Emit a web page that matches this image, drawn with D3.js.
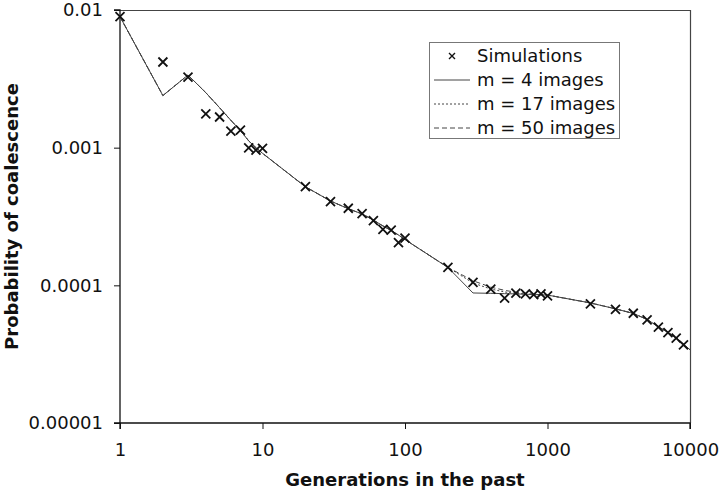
<!DOCTYPE html>
<html>
<head>
<meta charset="utf-8">
<script src="https://cdn.jsdelivr.net/npm/d3@7/dist/d3.min.js"></script>
<style>
    body { margin: 0; background: #fff; }
    svg { display: block; font-family: "DejaVu Sans", Verdana, sans-serif; }
</style>
</head>
<body>
<svg id="chart" width="720" height="493"></svg>
<script>
// Generations (x) where simulations were recorded
const simX = [1, 2, 3, 4, 5, 6, 7, 8, 9, 10,
    20, 30, 40, 50, 60, 70, 80, 90, 100,
    200, 300, 400, 500, 600, 700, 800, 900, 1000,
    2000, 3000, 4000, 5000, 6000, 7000, 8000, 9000];
const simY = [0.00894, 0.00419, 0.00326, 0.00176, 0.00167, 0.00132, 0.00134, 0.000996, 0.00096, 0.00099,
    0.000521, 0.000406, 0.000363, 0.000332, 0.000295, 0.000255, 0.000252, 0.000204, 0.00022,
    0.000135, 0.000105, 0.0000938, 0.0000806, 0.0000877, 0.0000868, 0.0000855, 0.0000868, 0.0000838,
    0.0000733, 0.000067, 0.0000627, 0.0000561, 0.0000497, 0.0000454, 0.0000413, 0.0000369];

// Model curves
const modelX = [1, 2, 3, 4, 5, 6, 7, 8, 9, 10,
    20, 30, 40, 50, 60, 70, 80, 90, 100,
    200, 300, 400, 500, 600, 700, 800, 900, 1000,
    2000, 3000, 4000, 5000, 6000, 7000, 8000, 9000, 10000];
const m4Y = [0.00894, 0.00239, 0.00337, 0.00251, 0.00195, 0.00158, 0.00133, 0.00112, 0.00100, 0.00091,
    0.00052, 0.00041, 0.00036, 0.00033, 0.000298, 0.00027, 0.00025, 0.000232, 0.000215,
    0.000135, 0.000088, 0.0000875, 0.000087, 0.0000866, 0.0000862, 0.0000858, 0.0000854, 0.000085,
    0.0000745, 0.0000675, 0.0000625, 0.0000565, 0.00005, 0.0000455, 0.0000415, 0.0000375, 0.000034];
const m17Y = [0.00894, 0.00239, 0.00337, 0.00251, 0.00195, 0.00158, 0.00133, 0.00112, 0.00100, 0.00091,
    0.00052, 0.00041, 0.00036, 0.00033, 0.000298, 0.00027, 0.00025, 0.000232, 0.000215,
    0.000135, 0.000104, 0.000094, 0.0000895, 0.0000875, 0.0000865, 0.0000858, 0.0000854, 0.000085,
    0.0000745, 0.0000675, 0.0000625, 0.0000565, 0.00005, 0.0000455, 0.0000415, 0.0000375, 0.000034];
const m50Y = [0.00894, 0.00239, 0.00337, 0.00251, 0.00195, 0.00158, 0.00133, 0.00112, 0.00100, 0.00091,
    0.00052, 0.00041, 0.00036, 0.00033, 0.000298, 0.00027, 0.00025, 0.000232, 0.000215,
    0.000135, 0.000108, 0.000097, 0.000092, 0.000089, 0.0000875, 0.000086, 0.0000855, 0.000085,
    0.0000745, 0.0000675, 0.0000625, 0.0000565, 0.00005, 0.0000455, 0.0000415, 0.0000375, 0.000034];

const xTicks = [1, 10, 100, 1000, 10000];
const xTickLabels = ['1', '10', '100', '1000', '10000'];
const yTicks = [0.01, 0.001, 0.0001, 0.00001];
const yTickLabels = ['0.01', '0.001', '0.0001', '0.00001'];

const seriesNames = ['Simulations', 'm = 4 images', 'm = 17 images', 'm = 50 images'];

const svg = d3.select('#chart');
const plot = { left: 120, right: 690, top: 10, bottom: 423 };

const x = d3.scaleLog().domain([1, 10000]).range([plot.left, plot.right]);
const y = d3.scaleLog().domain([0.00001, 0.01]).range([plot.bottom, plot.top]);

// plot frame (top and right)
svg.append('path')
    .attr('d', `M${plot.left},${plot.top + 0.5}H${plot.right + 0.5}V${plot.bottom}`)
    .attr('fill', 'none')
    .attr('stroke', '#444')
    .attr('stroke-width', 1.2);

// axes
const xAxis = svg.append('g')
    .attr('transform', `translate(0,${plot.bottom})`)
    .call(d3.axisBottom(x).tickValues(xTicks).tickSize(6).tickPadding(14)
        .tickFormat((d, i) => xTickLabels[i]));
const yAxis = svg.append('g')
    .attr('transform', `translate(${plot.left},0)`)
    .call(d3.axisLeft(y).tickValues(yTicks).tickSize(6).tickPadding(11)
        .tickFormat((d, i) => yTickLabels[i]));

[xAxis, yAxis].forEach(ax => {
    ax.select('.domain').attr('stroke', '#111').attr('stroke-width', 1.3);
    ax.selectAll('.tick line').attr('stroke', '#111');
    ax.selectAll('.tick text')
        .attr('fill', '#111')
        .style('font-size', '18px')
        .style('font-family', '"DejaVu Sans", Verdana, sans-serif');
});
yAxis.select('.domain').attr('d', `M-6,${plot.bottom}H0V${plot.top}H-6`);
xAxis.select('.domain').attr('d', `M${plot.left},6V0H${plot.right}V6`);

// model lines
const line = d3.line()
    .x((d, i) => x(modelX[i]))
    .y(d => y(d));

const models = [
    { vals: m50Y, dash: '5,3' },
    { vals: m17Y, dash: '2,2' },
    { vals: m4Y, dash: null }
];
models.forEach(m => {
    svg.append('path')
        .attr('d', line(m.vals))
        .attr('fill', 'none')
        .attr('stroke', '#444')
        .attr('stroke-width', 1)
        .attr('stroke-dasharray', m.dash);
});

// simulation markers
const cross = s => `M${-s},${-s}L${s},${s}M${-s},${s}L${s},${-s}`;
svg.append('g').selectAll('path')
    .data(simY)
    .enter().append('path')
    .attr('transform', (d, i) => `translate(${x(simX[i])},${y(d)})`)
    .attr('d', cross(4.5))
    .attr('stroke', '#111')
    .attr('stroke-width', 1.8)
    .attr('fill', 'none');

// legend
const lg = svg.append('g');
lg.append('rect')
    .attr('x', 429.5).attr('y', 42.5)
    .attr('width', 190).attr('height', 96)
    .attr('fill', '#fff')
    .attr('stroke', '#777')
    .attr('stroke-width', 1);

const rowY = [56, 80, 104, 128];
const legendDash = [null, null, '2,2', '5,3'];
seriesNames.forEach((name, i) => {
    if (i === 0) {
        lg.append('path')
            .attr('transform', `translate(452,${rowY[i]})`)
            .attr('d', cross(3))
            .attr('stroke', '#111')
            .attr('stroke-width', 1.4);
    } else {
        lg.append('line')
            .attr('x1', 434).attr('x2', 470)
            .attr('y1', rowY[i]).attr('y2', rowY[i])
            .attr('stroke', '#444')
            .attr('stroke-width', 1)
            .attr('stroke-dasharray', legendDash[i]);
    }
    lg.append('text')
        .attr('x', 477).attr('y', rowY[i])
        .attr('dy', '0.36em')
        .style('font-size', '18px')
        .attr('fill', '#111')
        .text(name);
});

// axis titles
svg.append('text')
    .attr('x', (plot.left + plot.right) / 2)
    .attr('y', 486)
    .attr('text-anchor', 'middle')
    .style('font-size', '18px')
    .style('font-weight', 'bold')
    .attr('fill', '#111')
    .text('Generations in the past');

svg.append('text')
    .attr('transform', `translate(18,${(plot.top + plot.bottom) / 2}) rotate(-90)`)
    .attr('text-anchor', 'middle')
    .style('font-size', '18px')
    .style('font-weight', 'bold')
    .attr('fill', '#111')
    .text('Probability of coalescence');
</script>
</body>
</html>
